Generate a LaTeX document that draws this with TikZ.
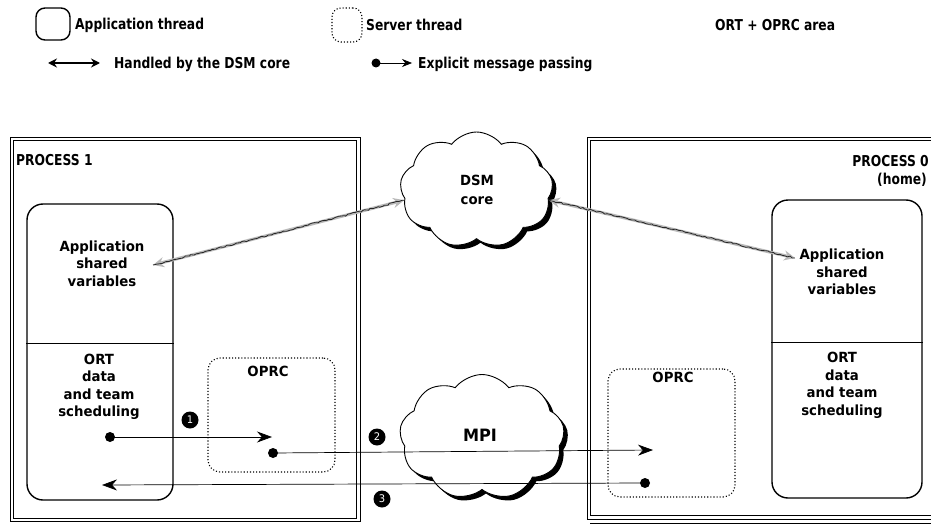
\documentclass[tikz,border=0pt]{standalone}
\usepackage{fontspec}
\setmainfont{DejaVu Sans}[FakeStretch=0.95]
\newfontfamily\condfont{DejaVu Sans}[FakeStretch=0.82]
\usetikzlibrary{shapes.symbols, arrows.meta, decorations.pathmorphing}
\begin{document}
\begin{tikzpicture}[x=1pt,y=-1pt,
 procline/.style={draw, line width=0.9pt},
 appbox/.style={draw, line width=1.4pt, rounded corners=16pt, inner sep=0pt},
 srvbox/.style={draw, dotted, line width=1.1pt, rounded corners=12pt, inner sep=0pt},
 boxtxt/.style={font=\bfseries\fontsize{14}{17.5}\selectfont, align=center, inner sep=0pt},
 lgtxt/.style={font=\condfont\bfseries\fontsize{15}{19}\selectfont, anchor=west, inner sep=0pt},
 msg/.style={line width=0.7pt, -{Stealth[length=15pt,width=11pt]}},
 dotnode/.style={circle, fill=black, minimum size=10pt, inner sep=0pt},
 num/.style={circle, fill=black, text=white, minimum size=17pt, inner sep=0pt, font=\fontsize{10.5}{10.5}\selectfont},
 dsmarrow/.style={draw=gray!55, line width=3pt, {Stealth[length=11pt,width=10pt]}-{Stealth[length=11pt,width=10pt]}},
 sketch/.style={draw=gray!30!black, line width=0.8pt, decorate, decoration={random steps, segment length=2.5pt, amplitude=0.8pt}},
 cloudshape/.style={cloud, cloud puffs=9, cloud puff arc=105, aspect=1.35, inner sep=0pt},
]
\useasboundingbox (0,0) rectangle (931,524);
\fill[white] (0,0) rectangle (931,524);

% ---------- legend ----------
\node[appbox, rounded corners=9pt, minimum width=34pt, minimum height=32pt] (lgapp) at (53,24) {};
\node[lgtxt] (lgapptxt) at (75,25) {Application thread};
\node[srvbox, rounded corners=9pt, minimum width=30pt, minimum height=34pt] (lgsrv) at (347,25) {};
\node[lgtxt] (lgsrvtxt) at (366,25) {Server thread};
\node[lgtxt] (lgort) at (715,25) {ORT + OPRC area};
\coordinate (lgdl) at (48,63);
\coordinate (lgdr) at (100,63);
\draw[line width=2.4pt, {Stealth[length=9pt,width=9pt]}-{Stealth[length=9pt,width=9pt]}] (lgdl) -- (lgdr);
\node[lgtxt] (lghand) at (114,64) {Handled by the DSM core};
\node[dotnode, minimum size=9pt] (lgdot) at (376,63) {};
\coordinate (lgtip) at (412,63);
\draw[line width=0.7pt, -{Stealth[length=10pt,width=8pt]}] (lgdot.center) -- (lgtip);
\node[lgtxt] (lgexp) at (418,64) {Explicit message passing};

% ---------- processes (double frames) ----------
\draw[procline] (10,137) rectangle (360,521.5);
\draw[procline] (13.5,140.5) rectangle (356.5,518);
\draw[procline] (587,137) rectangle (945,519);
\draw[procline] (590.5,140.5) rectangle (945,515.5);
\draw[line width=1.2pt] (590,523.5) -- (931,523.5);
\node[lgtxt] (p1lab) at (16,160) {PROCESS 1};
\node[lgtxt, anchor=east] (p0lab) at (929,161) {PROCESS 0};
\node[lgtxt, anchor=east] (p0home) at (927,180) {(home)};

% ---------- clouds ----------
\node[cloudshape, fill=black, minimum width=153pt, minimum height=116pt] (dsmsh) at (480.5,194) {};
\node[cloudshape, draw, fill=white, line width=0.9pt, minimum width=153pt, minimum height=116pt] (dsm) at (476.5,190) {};
\node[boxtxt, font=\bfseries\fontsize{14}{19}\selectfont] (dsmt) at (477,189.5) {DSM\\core};

\node[cloudshape, fill=black, minimum width=165pt, minimum height=125pt] (mpish) at (486,441) {};
\node[cloudshape, draw, fill=white, line width=0.9pt, minimum width=165pt, minimum height=125pt] (mpi) at (482,437) {};
\node[boxtxt, font=\bfseries\fontsize{17}{17}\selectfont] (mpit) at (480,435) {MPI};

% ---------- application threads ----------
\node[appbox, minimum width=146pt, minimum height=296pt] (app1) at (100,352) {};
\draw[line width=1pt] (app1.west |- 0,343) -- (app1.east |- 0,343);
\node[boxtxt] (app1t) at (102,263.5) {Application\\shared\\variables};
\node[boxtxt] (ort1t) at (99,387) {ORT\\data\\and team\\scheduling};

\node[appbox, minimum width=150pt, minimum height=298pt] (app0) at (847,349) {};
\draw[line width=1pt] (app0.west |- 0,342) -- (app0.east |- 0,342);
\node[boxtxt] (app0t) at (842,272) {Application\\shared\\variables};
\node[boxtxt] (ort0t) at (842,385.5) {ORT\\data\\and team\\scheduling};

% ---------- server threads ----------
\node[srvbox, minimum width=127pt, minimum height=114pt] (oprc1) at (271.5,415) {};
\node[boxtxt] (oprc1t) at (268,371) {OPRC};
\node[srvbox, minimum width=127pt, minimum height=128pt] (oprc0) at (671.5,433) {};
\node[boxtxt, fill=white, inner sep=1pt] (oprc0t) at (673,377) {OPRC};

% ---------- DSM arrows ----------
\coordinate (dl) at (153,265);
\coordinate (dr) at (795,258);
\draw[dsmarrow] (dsm.188) -- (dl);
\draw[sketch] (dsm.188) -- (dl);
\draw[dsmarrow] (dsm.352) -- (dr);
\draw[sketch] (dsm.352) -- (dr);

% ---------- message passing ----------
\node[dotnode] (d1) at (110,437) {};
\coordinate (t1) at (272,437);
\draw[msg] (d1.center) -- (t1);
\node[dotnode] (d2) at (273,453) {};
\coordinate (t2) at (653,450);
\draw[msg] (d2.center) -- (t2);
\node[dotnode] (d3) at (645,483) {};
\coordinate (t3) at (102,485);
\draw[msg] (d3.center) -- (t3);

\node[num] (n1) at (190,420) {1};
\node[num] (n2) at (377,437) {2};
\node[num] (n3) at (382,499) {3};
\end{tikzpicture}
\end{document}
